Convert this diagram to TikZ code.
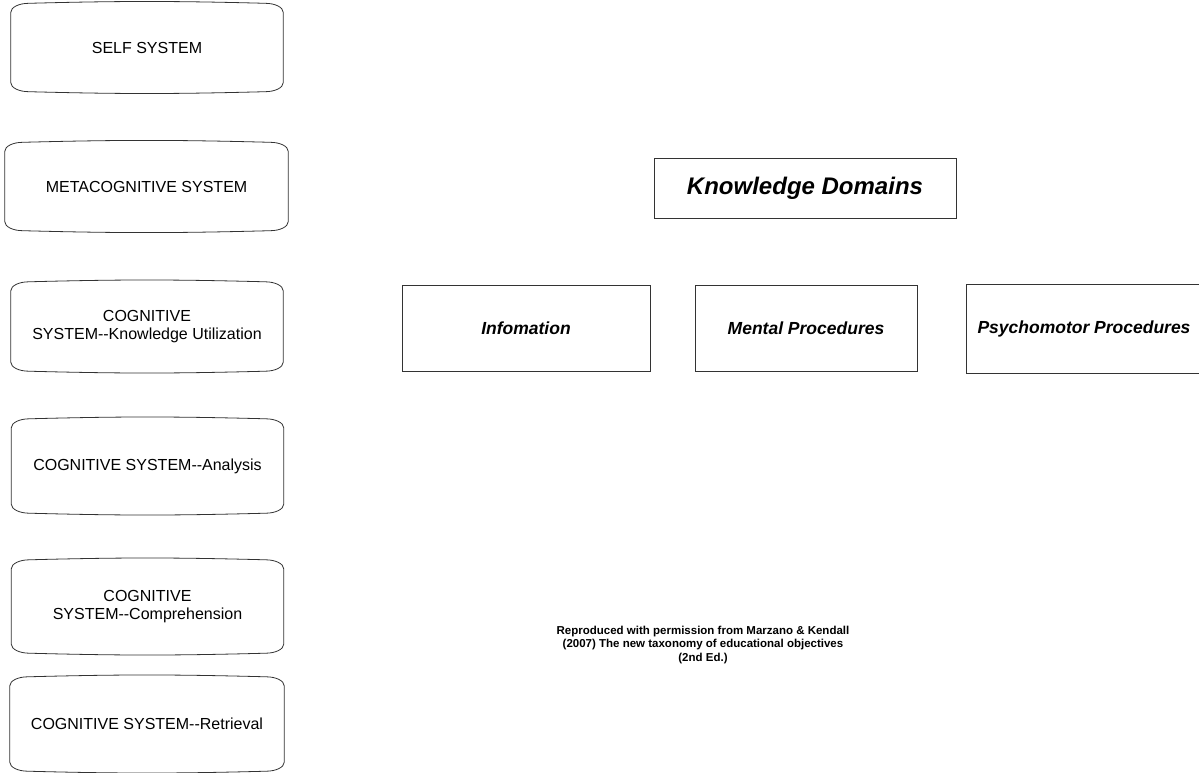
\documentclass[tikz,border=0pt]{standalone}
\usepackage{fontspec}
\setmainfont{Liberation Sans}
\usepackage{tikz}

\begin{document}
\begin{tikzpicture}[x=1pt,y=-1pt,
    sysbox/.style={minimum width=272pt, minimum height=88pt, align=center,
      font=\fontsize{16}{18.5}\selectfont},
    kbox/.style={draw=black!80, line width=0.8pt, minimum height=86pt,
      font=\fontsize{17.5}{20}\selectfont\bfseries\itshape}]
  \useasboundingbox (0,0) rectangle (1199,773);

  % left column: the systems
  \node[sysbox] (self) at (147,47.5) {SELF SYSTEM};
  \node[sysbox, minimum width=283pt] (meta) at (146.5,186.5) {METACOGNITIVE SYSTEM};
  \node[sysbox, minimum height=89pt] (util) at (147,326.5) {COGNITIVE\\SYSTEM-{}-Knowledge Utilization};
  \node[sysbox, minimum height=94pt] (anal) at (147.5,466) {COGNITIVE SYSTEM-{}-Analysis};
  \node[sysbox, minimum height=93pt] (comp) at (147.5,606.5) {COGNITIVE\\SYSTEM-{}-Comprehension};
  \node[sysbox, minimum height=94pt, minimum width=274pt] (retr) at (147,724) {COGNITIVE SYSTEM-{}-Retrieval};

  \foreach \n in {self,meta,util,anal,comp,retr}
    \draw[black!80, line width=0.8pt]
      ([yshift=-9pt]\n.north west) arc[start angle=180, end angle=90, x radius=18pt, y radius=9pt]
      to[bend left=1.5] ([xshift=-18pt]\n.north east)
      arc[start angle=90, end angle=0, x radius=18pt, y radius=9pt]
      -- ([yshift=9pt]\n.south east)
      arc[start angle=0, end angle=-90, x radius=18pt, y radius=9pt]
      to[bend left=1.5] ([xshift=18pt]\n.south west)
      arc[start angle=270, end angle=180, x radius=18pt, y radius=9pt]
      -- cycle;

  % right side: the domains
  \node[kbox, minimum width=302pt, minimum height=60pt, font=\fontsize{24}{27}\selectfont\bfseries\itshape] (kd) at (805,188) {Knowledge Domains};
  \node[kbox, minimum width=248pt] (info) at (526,328) {Infomation};
  \node[kbox, minimum width=222pt] (ment) at (806,328) {Mental Procedures};
  \node[kbox, minimum width=236pt, minimum height=89pt] (psy) at (1084,329) {Psychomotor Procedures};

  \node[align=center, font=\fontsize{11.5}{13.5}\selectfont\bfseries] (src) at (703,645)
    {Reproduced with permission from Marzano \& Kendall\\(2007) The new taxonomy of educational objectives\\(2nd Ed.)};
\end{tikzpicture}
\end{document}
